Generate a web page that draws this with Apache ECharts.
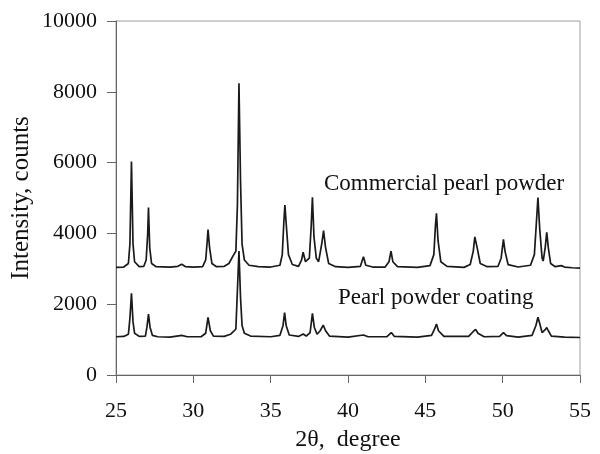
<!DOCTYPE html>
<html>
<head>
<meta charset="utf-8">
<script src="https://cdn.jsdelivr.net/npm/echarts@6/dist/echarts.min.js"></script>
<style>html,body{margin:0;padding:0;background:#fff}#c{width:600px;height:454px}</style>
</head>
<body>
<div id="c"></div>
<script>
// 2θ (degree) and intensity (counts)
const commercialTheta = [25.0,25.5,25.8,25.9,26.0,26.1,26.2,26.5,26.8,26.95,27.05,27.1,27.18,27.3,27.6,28.5,29.0,29.25,29.5,30.0,30.6,30.8,30.9,30.95,31.05,31.2,31.5,32.0,32.3,32.55,32.75,32.85,32.95,33.05,33.15,33.3,33.6,34.2,35.0,35.6,35.75,35.85,35.92,36.0,36.15,36.4,36.8,37.0,37.1,37.25,37.5,37.62,37.7,37.8,37.95,38.1,38.3,38.42,38.55,38.75,39.2,40.0,40.8,41.0,41.15,41.6,42.4,42.65,42.78,42.9,43.2,44.5,45.3,45.55,45.65,45.72,45.82,46.0,46.4,47.5,47.9,48.1,48.2,48.25,48.35,48.55,49.0,49.7,49.9,50.05,50.15,50.35,51.0,51.8,52.05,52.18,52.28,52.4,52.55,52.62,52.75,52.85,52.95,53.1,53.4,53.8,54.0,54.5,55.0];
const commercialCounts = [3040,3050,3150,3700,6030,3700,3200,3060,3070,3250,4000,4730,3600,3150,3060,3050,3070,3130,3060,3050,3060,3250,3800,4110,3600,3150,3060,3070,3150,3350,3500,4800,8240,5500,3700,3250,3100,3060,3050,3100,3400,4300,4800,4300,3400,3120,3070,3250,3470,3200,3300,4200,5020,3900,3300,3200,3700,4080,3600,3150,3060,3040,3070,3340,3100,3050,3050,3200,3500,3200,3060,3040,3090,3400,4200,4570,3800,3200,3070,3040,3120,3500,3900,3955,3600,3150,3060,3070,3300,3830,3500,3120,3050,3100,3400,4300,5010,4100,3300,3220,3600,4030,3600,3150,3060,3090,3050,3030,3020];

const coatingTheta = [25.0,25.5,25.8,25.9,26.0,26.1,26.2,26.5,26.9,27.0,27.1,27.2,27.35,27.7,28.5,29.25,29.6,30.5,30.8,30.95,31.1,31.3,32.0,32.4,32.6,32.75,32.85,32.95,33.05,33.15,33.3,33.7,35.0,35.6,35.8,35.9,36.0,36.2,36.8,37.1,37.3,37.55,37.7,37.82,38.0,38.2,38.4,38.55,38.8,40.0,41.0,41.3,42.5,42.8,43.0,44.5,45.4,45.6,45.72,45.85,46.2,47.8,48.1,48.25,48.4,48.8,49.8,50.05,50.25,51.0,51.9,52.15,52.28,52.4,52.55,52.62,52.75,52.85,52.95,53.15,54.0,55.0];
const coatingCounts = [1080,1090,1150,1600,2310,1500,1180,1090,1100,1350,1720,1350,1120,1080,1070,1120,1080,1080,1180,1630,1250,1100,1090,1150,1230,1300,2400,3500,2200,1400,1180,1100,1080,1120,1400,1760,1400,1130,1090,1160,1100,1200,1740,1350,1150,1250,1410,1250,1100,1070,1130,1080,1080,1200,1090,1070,1120,1300,1440,1250,1090,1090,1230,1290,1180,1080,1090,1195,1110,1070,1120,1400,1630,1450,1200,1160,1280,1340,1250,1100,1070,1060];

const xTicks = [25,30,35,40,45,50,55];
const yTicks = [0,2000,4000,6000,8000,10000];
const seriesNames = ['Commercial pearl powder','Pearl powder coating'];

const zip = (a,b) => a.map((v,i)=>[v,b[i]]);
const font = '"Liberation Serif", "Times New Roman", serif';

const chart = echarts.init(document.getElementById('c'), null, {renderer:'canvas'});
chart.setOption({
  animation:false,
  backgroundColor:'#fff',
  grid:{left:116,right:20,top:21,bottom:79,containLabel:false,outerBoundsMode:'none',
    show:true,borderColor:'#a0a0a0',borderWidth:1,backgroundColor:'transparent'},
  xAxis:{type:'value',min:xTicks[0],max:xTicks[xTicks.length-1],interval:5,
    name:'2θ,  degree',nameLocation:'middle',nameGap:53,nameMoveOverlap:false,
    nameTextStyle:{fontFamily:font,fontSize:24,color:'#111'},
    axisLine:{lineStyle:{color:'#666',width:1}},
    axisTick:{inside:false,length:8,lineStyle:{color:'#666'}},
    axisLabel:{fontFamily:font,fontSize:22,color:'#111',margin:25,formatter:v=>String(v)},
    splitLine:{show:false}},
  yAxis:{type:'value',min:yTicks[0],max:yTicks[yTicks.length-1],interval:2000,
    name:'Intensity, counts',nameLocation:'middle',nameGap:82,nameMoveOverlap:false,
    nameTextStyle:{fontFamily:font,fontSize:25,color:'#111'},
    axisLine:{show:true,lineStyle:{color:'#666',width:1}},
    axisTick:{show:true,inside:false,length:9,lineStyle:{color:'#666'}},
    axisLabel:{fontFamily:font,fontSize:22,color:'#111',margin:19,formatter:v=>String(v)},
    splitLine:{show:false}},
  series:[
    {name:seriesNames[0],type:'line',data:zip(commercialTheta,commercialCounts),showSymbol:false,
     lineStyle:{color:'#1a1a1a',width:1.7},z:3},
    {name:seriesNames[1],type:'line',data:zip(coatingTheta,coatingCounts),showSymbol:false,
     lineStyle:{color:'#1a1a1a',width:1.7},z:3}
  ],
  graphic:[
    {type:'text',left:324,top:172,style:{text:seriesNames[0],font:'23px '+font,fill:'#111'}},
    {type:'text',left:338,top:286,style:{text:seriesNames[1],font:'23px '+font,fill:'#111'}}
  ]
});
</script>
</body>
</html>
